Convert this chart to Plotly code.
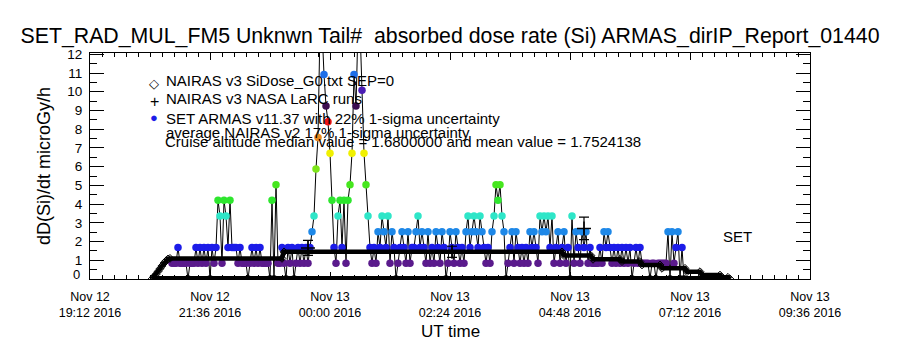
import pandas as pd
import plotly.graph_objects as go

# ---------------- data ----------------
x_tick_times = ["2016-11-12 19:12", "2016-11-12 21:36", "2016-11-13 00:00", "2016-11-13 02:24",
                "2016-11-13 04:48", "2016-11-13 07:12", "2016-11-13 09:36"]
x_tick_labels = ["Nov 12<br>19:12 2016", "Nov 12<br>21:36 2016", "Nov 13<br>00:00 2016",
                 "Nov 13<br>02:24 2016", "Nov 13<br>04:48 2016", "Nov 13<br>07:12 2016",
                 "Nov 13<br>09:36 2016"]
y_tick_values = [1, 2, 3, 4, 5, 6, 7, 8, 9, 10, 11, 12]

# SET ARMAS v11.37 absorbed dose rate, instrument counts at a regular 144 s cadence
armas_start = "2016-11-12 20:50:24"
armas_step_seconds = 144
dose_per_count = 0.84   # microGy/h per count
armas_counts = [
    1, 1, 1, 2, 1, 1, 1, 1, 0, 1,
    1, 1, 2, 1, 2, 1, 2, 1, 2, 0,
    2, 1, 2, 5, 4, 1, 5, 4, 2, 5,
    2, 2, 2, 1, 2, 1, 1, 1, 0, 1,
    2, 1, 2, 1, 2, 1, 1, 1, 1, 0,
    5, 0, 6, 1, 1, 2, 1, 0, 2, 1,
    2, 0, 1, 2, 1, 2, 1, 2, 1, 2,
    3, 4, 7, 9, 16, 16, 13, 11, 10, 8,
    5, 2, 1, 4, 5, 2, 5, 1, 5, 6,
    8, 13, 11, 16, 16, 12, 8, 6, 4, 2,
    1, 2, 1, 3, 2, 4, 3, 2, 4, 1,
    3, 2, 0, 1, 2, 3, 2, 1, 3, 1,
    2, 2, 3, 4, 2, 3, 2, 1, 3, 1,
    2, 1, 3, 2, 1, 3, 2, 0, 1, 3,
    2, 1, 3, 2, 1, 2, 1, 3, 4, 2,
    3, 4, 3, 2, 4, 3, 2, 1, 2, 1,
    3, 4, 6, 5, 6, 4, 3, 0, 1, 2,
    3, 1, 3, 2, 1, 2, 1, 2, 1, 3,
    2, 3, 2, 1, 4, 3, 4, 3, 4, 2,
    4, 1, 2, 3, 1, 2, 3, 1, 2, 0,
    4, 1, 3, 2, 1, 3, 2, 3, 1, 2,
    1, 1, 1, 1, 2, 1, 3, 2, 3, 2,
    1, 2, 1, 2, 1, 2, 1, 2, 1, 2,
    0, 1, 2, 1, 2, 1, 1, 1, 1, 0,
    1, 1, 0, 1, 1, 1, 1, 1, 3, 0,
    3, 1, 2, 3, 0, 2, 0,
]

# NAIRAS v3 SiDose_G0.txt (UT hours from 2016-11-12 00:00)
nairas_ut_hours = [20.44, 20.48, 20.52, 20.56, 20.60, 20.64, 20.68, 20.72, 20.76, 20.80,
                   23.04, 23.08, 28.64, 28.68, 29.22, 29.26, 29.80, 29.84, 30.20, 30.24,
                   30.60, 30.64, 31.10, 31.14, 31.40, 31.44, 31.80, 31.84, 31.96, 32.00]
nairas_dose = [0.00, 0.12, 0.25, 0.40, 0.55, 0.70, 0.85, 0.97, 1.07, 1.10,
               1.10, 1.45, 1.45, 1.25, 1.25, 1.05, 1.05, 0.93, 0.93, 0.75,
               0.75, 0.57, 0.57, 0.39, 0.39, 0.21, 0.21, 0.09, 0.09, 0.00]
nairas_zero_ut_hours = [20.44, 32.00]
nairas_zero_dose = [0.0, 0.0]

# NAIRAS v3 NASA LaRC runs with 17% uncertainty
larc_ut_hours = [23.56, 26.44, 29.08]
larc_dose = [1.66, 1.45, 2.70]
larc_err = [0.40, 0.30, 0.60]

# colour table index by count (IDL rainbow, byte wrap above 10 counts)
level_colors = ["#000000", "#5a1a8c", "#1c1ce8", "#1e88e8", "#2ee6c8", "#2ee62e",
                "#46e61e", "#7ee61a", "#f0f000", "#e88a1e", "#f01414", "#3c0c50",
                "#4a1cb4", "#1e6ee8", "#1ec8e8", "#1ee6c8", "#2ee62e"]

# ---------------- build ----------------
base = pd.Timestamp("2016-11-12 00:00")
def ut(hours):
    return [base + pd.Timedelta(hours=h) for h in hours]

armas_t = pd.date_range(armas_start, periods=len(armas_counts), freq=f"{armas_step_seconds}s")
armas_dose = [c * dose_per_count for c in armas_counts]
armas_col = [level_colors[min(c, len(level_colors) - 1)] for c in armas_counts]

FONT = "Liberation Sans"
fig = go.Figure()

fig.add_trace(go.Scatter(x=armas_t, y=armas_dose, mode="lines",
                         line=dict(color="black", width=1), hoverinfo="skip"))
fig.add_trace(go.Scatter(x=armas_t, y=armas_dose, mode="markers",
                         marker=dict(color=armas_col, size=7.5, line=dict(width=0))))
fig.add_trace(go.Scatter(x=ut(nairas_zero_ut_hours), y=nairas_zero_dose, mode="lines",
                         line=dict(color="black", width=6)))
fig.add_trace(go.Scatter(x=ut(nairas_ut_hours), y=nairas_dose, mode="lines+markers",
                         line=dict(color="black", width=4.5),
                         marker=dict(symbol="diamond-open", size=6, color="black",
                                     line=dict(width=1, color="black"))))
fig.add_trace(go.Scatter(x=ut(larc_ut_hours), y=larc_dose, mode="markers",
                         marker=dict(symbol="cross-thin", size=10,
                                     line=dict(width=1.5, color="black")),
                         error_y=dict(type="data", array=larc_err, color="black",
                                      thickness=1.2, width=5)))

# legend texts (IDL-style, drawn inside plot)
def px(x):
    return (x - 90) / 720.0
def py(y):
    return (279 - y) / 226.0

ann = []
legend_rows = [
    ("\u25C7", 13, "black", 83, "NAIRAS v3 SiDose_G0.txt SEP=0", 80),
    ("+", 16, "black", 101, "NAIRAS v3 NASA LaRC runs", 98),
    ("\u25CF", 13, "#1c1ce8", 117, "SET ARMAS v11.37 with 22% 1-sigma uncertainty", 118),
]
for sym, ssz, scol, sy, txt, ty in legend_rows:
    ann.append(dict(xref="paper", yref="paper", x=px(154), y=py(sy), text=sym,
                    showarrow=False, xanchor="center", yanchor="middle",
                    font=dict(family=FONT, size=ssz, color=scol)))
    ann.append(dict(xref="paper", yref="paper", x=px(164), y=py(ty), text=txt,
                    showarrow=False, xanchor="left", yanchor="middle",
                    font=dict(family=FONT, size=15, color="black")))
ann.append(dict(xref="paper", yref="paper", x=px(164), y=py(132),
                text="average NAIRAS v2 17% 1-sigma uncertainty",
                showarrow=False, xanchor="left", yanchor="middle",
                font=dict(family=FONT, size=15, color="black")))
ann.append(dict(xref="paper", yref="paper", x=px(163), y=py(141),
                text="Cruise altitude median value = 1.6800000 and mean value = 1.7524138",
                showarrow=False, xanchor="left", yanchor="middle",
                font=dict(family=FONT, size=15, color="black")))
ann.append(dict(xref="x", yref="y", x=base + pd.Timedelta(hours=32.14), y=2.25, text="SET",
                showarrow=False, xanchor="center", yanchor="middle",
                font=dict(family=FONT, size=15, color="black")))
# bottom y label sits raised above the x-axis labels, as in the original
ann.append(dict(xref="paper", yref="paper", x=px(82), y=py(274), text="0",
                showarrow=False, xanchor="right", yanchor="middle",
                font=dict(family=FONT, size=13, color="black")))
# axis titles
ann.append(dict(xref="paper", yref="paper", x=0.5, y=py(331), text="UT time",
                showarrow=False, xanchor="center", yanchor="middle",
                font=dict(family=FONT, size=17, color="black")))
ann.append(dict(xref="paper", yref="paper", x=px(44), y=py(166), text="dD(Si)/dt microGy/h",
                showarrow=False, xanchor="center", yanchor="middle", textangle=-90,
                font=dict(family=FONT, size=18, color="black")))

fig.update_layout(
    width=900, height=350,
    margin=dict(l=90, r=90, t=53, b=71),
    paper_bgcolor="white", plot_bgcolor="white",
    showlegend=False,
    font=dict(family=FONT, color="black"),
    title=dict(text="SET_RAD_MUL_FM5 Unknwn Tail#\u00a0 absorbed dose rate (Si) ARMAS_dirIP_Report_01440",
               x=0.5, xanchor="center", y=1 - 36 / 350, yanchor="middle",
               font=dict(family=FONT, size=21.3, color="black")),
    annotations=ann,
)
fig.update_xaxes(
    type="date", range=[x_tick_times[0], x_tick_times[-1]],
    tickmode="array", tickvals=x_tick_times, ticktext=x_tick_labels,
    ticks="inside", ticklen=7, tickwidth=1, tickcolor="black",
    showline=True, linecolor="black", linewidth=1, mirror="allticks",
    showgrid=False, zeroline=False, ticklabelstandoff=6,
    minor=dict(tick0=x_tick_times[0], dtick=864000, ticks="inside", ticklen=4,
               tickcolor="black", showgrid=False),
    tickfont=dict(family=FONT, size=12.5, color="black"),
)
fig.update_yaxes(
    range=[0, 12.07], tickmode="array", tickvals=y_tick_values,
    ticks="inside", ticklen=14, tickwidth=1, tickcolor="black",
    showline=True, linecolor="black", linewidth=1, mirror="allticks",
    showgrid=False, zeroline=False, ticklabelstandoff=4,
    minor=dict(tick0=0, dtick=0.5, ticks="inside", ticklen=7, tickcolor="black", showgrid=False),
    tickfont=dict(family=FONT, size=13.5, color="black"),
)

fig.write_html("out.html")
